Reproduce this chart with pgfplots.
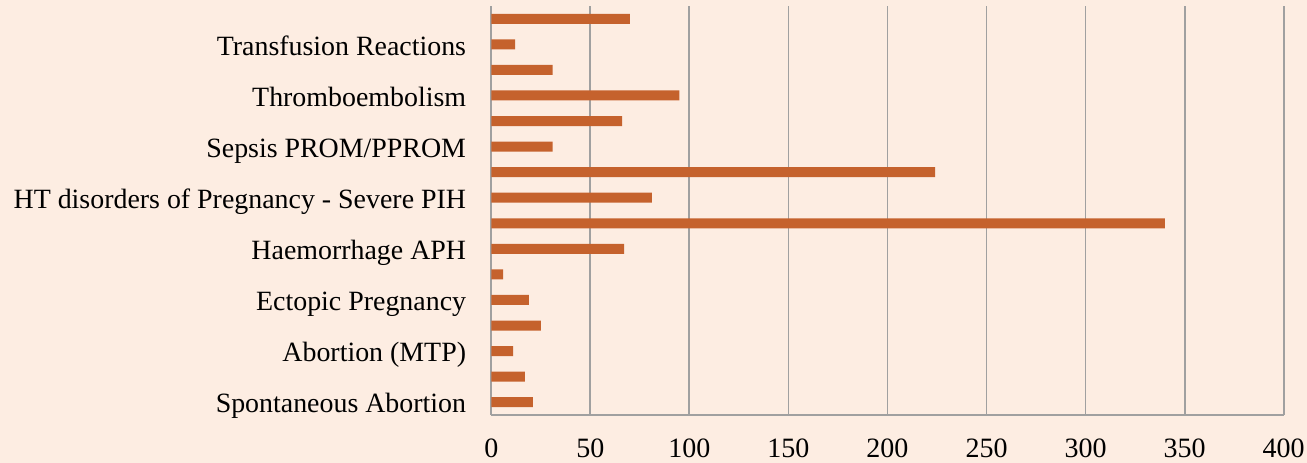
\documentclass[border=0pt]{standalone}
\usepackage{pgfplots}
\pgfplotsset{compat=1.18}
\usepackage{fontspec}
\setmainfont{Liberation Serif}
\definecolor{bgc}{RGB}{253,237,226}
\definecolor{barc}{RGB}{197,98,45}
\definecolor{gridc}{RGB}{160,160,160}
\begin{document}
\begin{tikzpicture}
\fill[bgc] (-491.3pt,-48pt) rectangle (815.7pt,415pt);
\begin{axis}[
  at={(0pt,0pt)}, anchor=south west,
  scale only axis,
  width=792.4pt, height=409pt,
  xbar, bar width=10pt,
  xmin=0, xmax=400,
  ymin=-0.5, ymax=15.5,
  xtick={0,50,...,400},
  ytick={0,2,...,14},
  yticklabels={Spontaneous Abortion, Abortion (MTP), Ectopic Pregnancy, Haemorrhage APH, HT disorders of Pregnancy - Severe PIH, Sepsis PROM/PPROM, Thromboembolism, Transfusion Reactions},
  axis lines*=left,
  axis line style={gridc, line width=1.8pt},
  xmajorgrids,
  grid style={gridc, line width=1.8pt},
  major tick length=0pt,
  /pgf/number format/assume math mode=true,
  xticklabel style={font=\fontsize{28}{32}\selectfont, inner sep=0pt, yshift=-24pt},
  yticklabel style={font=\fontsize{27.9}{32}\selectfont, inner sep=0pt, anchor=base east, xshift=-25pt, yshift=-10.7pt},
  clip=false,
]
\addplot[fill=barc, draw=none] coordinates {
(21,0) (17,1) (11,2) (25,3) (19,4) (6,5) (67,6) (340,7)
(81,8) (224,9) (31,10) (66,11) (95,12) (31,13) (12,14) (70,15)
};
\end{axis}
\end{tikzpicture}
\end{document}
